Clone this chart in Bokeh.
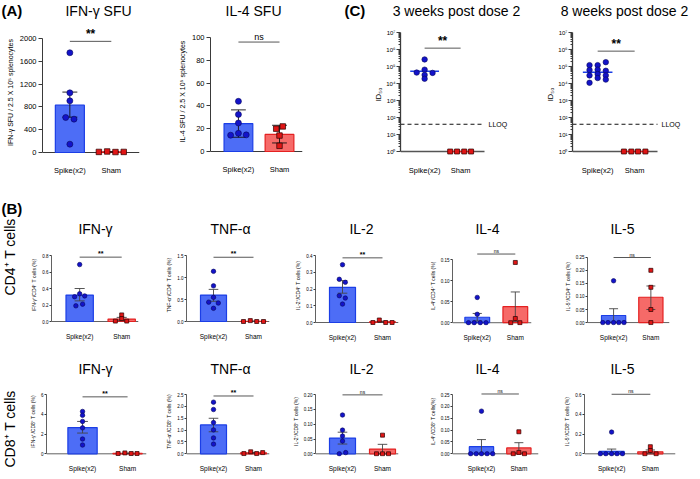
import math
from bokeh.plotting import figure
from bokeh.layouts import row, column
from bokeh.models import Range1d, FixedTicker, Span, Label, Arrow
from bokeh.embed import file_html
from bokeh.resources import INLINE

FONT = "Liberation Sans"

categories = ["Spike(x2)", "Sham"]
cat_x = [1, 2]

# ================= (A) ELISpot =================
a_ifn_spike = [1750, 1047, 906, 614, 585, 146]
a_ifn_sham = [10, 18, 8, 10]
a_ifn_bar = [830, 10]
a_ifn_lo = [620, 5]
a_ifn_hi = [1060, 15]
a_ifn_ticks = [0, 400, 800, 1200, 1600, 2000]
a_ifn_tick_labels = ["0", "400", "800", "1200", "1600", "2000"]
a_ifn_bracket = 1950
a_ifn_sig = "**"

a_il4_spike = [44, 32.5, 25, 16, 14.3, 14.6]
a_il4_sham = [20, 22, 14, 5]
a_il4_bar = [24.5, 15]
a_il4_lo = [12.5, 7.5]
a_il4_hi = [36.5, 23]
a_il4_ticks = [0, 20, 40, 60, 80, 100]
a_il4_tick_labels = ["0", "20", "40", "60", "80", "100"]
a_il4_bracket = 96
a_il4_sig = "ns"

a_titles = ["IFN-γ SFU", "IL-4 SFU"]
a_ylabels = ["IFN-γ SFU / 2.5 X 10⁵ splenocytes", "IL-4 SFU / 2.5 X 10⁵ splenocytes"]

# ================= (C) ID50 =================
c3_spike = [2.6e5, 6.5e4, 4.4e4, 4.2e4, 3.2e4, 1.9e4]
c3_sham = [1, 1, 1, 1]
c3_spike_median = 5.2e4
c3_sham_median = 1
c3_bracket = 1.2e6
c3_sig = "**"

c8_spike = [1.2e5, 6.2e4, 3.0e4, 1.1e4,
            1.2e5, 6.5e4, 3.6e4, 2.1e4,
            1.8e5, 5.6e4, 3.0e4, 1.7e4]
c8_sham = [1, 1, 1, 1]
c8_spike_median = 4.6e4
c8_sham_median = 1
c8_bracket = 8e5
c8_sig = "**"

c_lloq = 40
c_lloq_label = "LLOQ"
c_ticks = [1, 10, 100, 1e3, 1e4, 1e5, 1e6, 1e7]
c_tick_labels = ["10⁰", "10¹", "10²", "10³", "10⁴", "10⁵", "10⁶", "10⁷"]
c_titles = ["3 weeks post dose 2", "8 weeks post dose 2"]
c_ylabel = "ID₅₀"

# ================= (B) CD4 =================
b_titles = ["IFN-γ", "TNF-α", "IL-2", "IL-4", "IL-5"]

b4_ifn_spike = [0.69, 0.336, 0.30, 0.31, 0.19, 0.21]
b4_ifn_sham = [0.08, 0.035, 0.005, 0.005]
b4_ifn_bar = [0.32, 0.03]
b4_ifn_lo = [0.25, 0.01]
b4_ifn_hi = [0.40, 0.05]
b4_ifn_ticks = [0, 0.2, 0.4, 0.6, 0.8]
b4_ifn_tick_labels = ["0.0", "0.2", "0.4", "0.6", "0.8"]

b4_tnf_spike = [1.14, 0.81, 0.55, 0.44, 0.42, 0.30]
b4_tnf_sham = [0.0, 0.02, 0.0, 0.0]
b4_tnf_bar = [0.60, 0.005]
b4_tnf_lo = [0.46, 0.0]
b4_tnf_hi = [0.73, 0.01]
b4_tnf_ticks = [0, 0.5, 1.0, 1.5]
b4_tnf_tick_labels = ["0.0", "0.5", "1.0", "1.5"]

b4_il2_spike = [0.345, 0.258, 0.24, 0.16, 0.146, 0.11]
b4_il2_sham = [0.0, 0.015, 0.0, 0.0]
b4_il2_bar = [0.21, 0.004]
b4_il2_lo = [0.175, 0.0]
b4_il2_hi = [0.25, 0.008]
b4_il2_ticks = [0, 0.1, 0.2, 0.3, 0.4]
b4_il2_tick_labels = ["0.0", "0.1", "0.2", "0.3", "0.4"]

b4_il4_spike = [0.06, 0.02, 0, 0, 0, 0]
b4_il4_sham = [0.143, 0.01, 0, 0]
b4_il4_bar = [0.013, 0.038]
b4_il4_lo = [0.004, 0.003]
b4_il4_hi = [0.022, 0.073]
b4_il4_ticks = [0, 0.05, 0.10, 0.15]
b4_il4_tick_labels = ["0.00", "0.05", "0.10", "0.15"]

b4_il5_spike = [0.16, 0, 0, 0, 0, 0]
b4_il5_sham = [0.20, 0.135, 0.05, 0.0]
b4_il5_bar = [0.027, 0.097]
b4_il5_lo = [0.001, 0.05]
b4_il5_hi = [0.053, 0.14]
b4_il5_ticks = [0, 0.05, 0.10, 0.15, 0.20, 0.25]
b4_il5_tick_labels = ["0.00", "0.05", "0.10", "0.15", "0.20", "0.25"]

b4_brackets = [0.78, 1.46, 0.386, 0.163, 0.249]
b4_sigs = ["**", "**", "**", "ns", "ns"]
b4_ylabels = ["IFN-γ⁺/CD4⁺ T cells (%)", "TNF-α⁺/CD4⁺ T cells (%)", "IL-2⁺/CD4⁺ T cells (%)",
              "IL-4⁺/CD4⁺ T cells (%)", "IL-5⁺/CD4⁺ T cells (%)"]

# ================= (B) CD8 =================
b8_ifn_spike = [4.29, 3.9, 3.28, 2.63, 1.5, 0.89]
b8_ifn_sham = [0.03, 0.09, 0.03, 0.03]
b8_ifn_bar = [2.66, 0.05]
b8_ifn_lo = [2.1, 0.03]
b8_ifn_hi = [3.28, 0.07]
b8_ifn_ticks = [0, 2, 4, 6]
b8_ifn_tick_labels = ["0", "2", "4", "6"]

b8_tnf_spike = [2.18, 1.87, 1.32, 1.01, 0.67, 0.41]
b8_tnf_sham = [0.01, 0.085, 0.01, 0.05]
b8_tnf_bar = [1.22, 0.04]
b8_tnf_lo = [0.93, 0.02]
b8_tnf_hi = [1.5, 0.06]
b8_tnf_ticks = [0, 0.5, 1.0, 1.5, 2.0, 2.5]
b8_tnf_tick_labels = ["0.0", "0.5", "1.0", "1.5", "2.0", "2.5"]

b8_il2_spike = [0.131, 0.08, 0.06, 0.043, 0.0, 0.004]
b8_il2_sham = [0.063, 0, 0, 0]
b8_il2_bar = [0.053, 0.016]
b8_il2_lo = [0.033, 0.0]
b8_il2_hi = [0.073, 0.032]
b8_il2_ticks = [0, 0.05, 0.10, 0.15, 0.20]
b8_il2_tick_labels = ["0.00", "0.05", "0.10", "0.15", "0.20"]

b8_il4_spike = [0.18, 0, 0, 0, 0, 0]
b8_il4_sham = [0.093, 0.006, 0, 0]
b8_il4_bar = [0.03, 0.025]
b8_il4_lo = [0.0, 0.003]
b8_il4_hi = [0.06, 0.047]
b8_il4_ticks = [0, 0.05, 0.10, 0.15, 0.20, 0.25]
b8_il4_tick_labels = ["0.00", "0.05", "0.10", "0.15", "0.20", "0.25"]

b8_il5_spike = [0.22, 0, 0, 0, 0, 0]
b8_il5_sham = [0.072, 0.033, 0, 0]
b8_il5_bar = [0.024, 0.02]
b8_il5_lo = [0.0, 0.001]
b8_il5_hi = [0.048, 0.039]
b8_il5_ticks = [0, 0.2, 0.4, 0.6]
b8_il5_tick_labels = ["0.0", "0.2", "0.4", "0.6"]

b8_brackets = [5.77, 2.44, 0.199, 0.2525, 0.603]
b8_sigs = ["**", "**", "ns", "ns", "ns"]
b8_ylabels = ["IFN-γ⁺/CD8⁺ T cells (%)", "TNF-α⁺/CD8⁺ T cells (%)", "IL-2⁺/CD8⁺ T cells (%)",
              "IL-4⁺/CD8⁺ T cells(%)", "IL-5⁺/CD8⁺ T cells (%)"]

panel_letters = ["(A)", "(B)", "(C)"]
row_labels = ["CD4⁺ T cells", "CD8⁺ T cells"]

# ----- horizontal offsets of the swarm points (layout only) -----
a_ifn_spike_dx = [0, 0, 0, -0.1, 0.1, 0]
a_ifn_sham_dx = [-0.3, -0.1, 0.1, 0.3]
a_il4_spike_dx = [0, 0, 0, 0, -0.19, 0.19]
a_il4_sham_dx = [-0.08, 0.08, 0, 0]
c3_spike_dx = [0, 0, -0.22, 0.22, 0, 0]
c3_sham_dx = [-0.29, -0.1, 0.1, 0.29]
c8_spike_dx = [-0.22] * 4 + [0] * 4 + [0.22] * 4
c8_sham_dx = [-0.29, -0.09, 0.09, 0.29]
b4_dx = [
    ([0, 0, -0.12, 0.12, -0.09, 0.07], [0, 0, -0.15, 0.12]),
    ([0, 0, 0, -0.12, 0.12, 0], [-0.25, -0.08, 0.08, 0.25]),
    ([0, -0.08, 0.07, -0.08, 0.07, 0], [-0.24, -0.08, 0.08, 0.24]),
    ([0, 0, -0.23, -0.08, 0.08, 0.23], [0, 0, -0.12, 0.12]),
    ([0, -0.29, -0.15, 0, 0.14, 0.28], [0, 0, 0, 0]),
]
b8_dx = [
    ([0, 0, 0, 0, 0, 0], [-0.21, -0.06, 0.08, 0.21]),
    ([0, 0, 0, 0, 0, 0], [-0.24, -0.07, 0.08, 0.23]),
    ([0, 0, 0, 0, -0.08, 0.08], [0, -0.15, 0, 0.15]),
    ([0, -0.29, -0.14, 0, 0.15, 0.3], [0, 0, -0.15, 0.15]),
    ([0, -0.29, -0.15, 0, 0.14, 0.28], [0, 0, -0.14, 0.15]),
]

# ----- colours -----
BLUE_FILL = "#4d6df6"
BLUE_LINE = "#1b3ee6"
BLUE_DOT = "#1313c9"
BLUE_DOT_LINE = "#08085a"
RED_FILL = "#f66a68"
RED_LINE = "#e42121"
RED_DOT = "#e01515"
RED_DOT_LINE = "#2a0000"
AXIS = "#3a3a3a"

ST_A = dict(tick_fs="7.5px", cat_fs="7.5px", ylab_fs="7px", tick_out=4, tick_standoff=2,
            ylab_standoff=3, cat_standoff=3, bar_w=0.7, cap=0.18, dot=6, sq=5.5,
            sig_fs="12px", ns_fs="9px", err="#111111", axis_w=1)
ST_C = dict(tick_fs="6px", cat_fs="7.5px", ylab_fs="7.5px", tick_out=4, tick_standoff=1,
            ylab_standoff=0, cat_standoff=3, dot=5.5, sq=5, sig_fs="12px", ns_fs="9px", axis_w=1.3)
ST_B = dict(tick_fs="4.5px", cat_fs="6.5px", ylab_fs="5px", tick_out=2, tick_standoff=1,
            ylab_standoff=2, cat_standoff=2, bar_w=0.65, cap=0.12, dot=4.5, sq=4,
            sig_fs="7px", ns_fs="5px", err="#444444", axis_w=0.8)


def make_fig(W, H, bl, bt, fw, fh, xr, yr, log=False):
    kw = dict(width=W, height=H, x_range=Range1d(*xr), y_range=Range1d(*yr),
              min_border_left=bl, min_border_right=W - bl - fw,
              min_border_top=bt, min_border_bottom=H - bt - fh,
              output_backend="svg", toolbar_location=None, title=None)
    if log:
        kw["y_axis_type"] = "log"
    p = figure(**kw)
    p.frame_align = False
    p.outline_line_color = None
    p.grid.visible = False
    p.background_fill_color = "white"
    p.border_fill_color = "white"
    return p


def style_axes(p, ticks, labels, ylabel, st, minor=None):
    xa = p.xaxis[0]
    xa.ticker = FixedTicker(ticks=cat_x)
    xa.major_label_overrides = dict(zip(cat_x, categories))
    xa.axis_line_color = None
    xa.major_tick_line_color = None
    xa.minor_tick_line_color = None
    xa.major_label_standoff = st["cat_standoff"]
    xa.major_label_text_font = FONT
    xa.major_label_text_font_size = st["cat_fs"]
    xa.major_label_text_color = "black"
    ya = p.yaxis[0]
    ya.ticker = FixedTicker(ticks=ticks, minor_ticks=minor or [])
    ya.major_label_overrides = dict(zip(ticks, labels))
    ya.bounds = (ticks[0], ticks[-1])
    ya.axis_line_color = AXIS
    ya.axis_line_width = st["axis_w"]
    ya.major_tick_line_color = AXIS
    ya.major_tick_out = st["tick_out"]
    ya.major_tick_in = 0
    ya.minor_tick_line_color = AXIS if minor else None
    ya.minor_tick_out = 2
    ya.minor_tick_in = 0
    ya.major_label_standoff = st["tick_standoff"]
    ya.major_label_text_font = FONT
    ya.major_label_text_font_size = st["tick_fs"]
    ya.major_label_text_color = "black"
    ya.axis_label = ylabel
    ya.axis_label_text_font = FONT
    ya.axis_label_text_font_size = st["ylab_fs"]
    ya.axis_label_text_font_style = "normal"
    ya.axis_label_text_color = "black"
    ya.axis_label_standoff = st["ylab_standoff"]


def add_sig(p, y, sig, st):
    p.add_layout(Arrow(x_start=1, y_start=y, x_end=2, y_end=y, start=None, end=None,
                       line_color="#444444", line_width=0.9))
    bold = sig == "**"
    p.add_layout(Label(x=1.5, y=y, text=sig, text_font=FONT,
                       text_font_size=st["sig_fs"] if bold else st["ns_fs"],
                       text_font_style="bold" if bold else "normal",
                       text_align="center", text_baseline="bottom", text_color="black"))


def bar_panel(geom, H, xr, ticks, labels, ylabel, spike, spike_dx, sham, sham_dx,
              bar, lo, hi, brk, sig, st):
    W, bl, fw, t, span, ext, pad = geom
    ytop = ticks[-1]
    ppu = span / ytop
    p = make_fig(W, H, bl, t - ext, fw, ext + span + pad, xr, (-pad / ppu, ytop + ext / ppu))
    style_axes(p, ticks, labels, ylabel, st)
    base = Span(location=0, dimension="width", line_color=AXIS, line_width=st["axis_w"])
    base.level = "underlay"
    p.add_layout(base)
    p.vbar(x=cat_x, top=bar, bottom=0, width=st["bar_w"],
           fill_color=[BLUE_FILL, RED_FILL], line_color=[BLUE_LINE, RED_LINE], line_width=1.2)
    cw = st["cap"]
    p.segment(x0=cat_x, y0=lo, x1=cat_x, y1=hi, line_color=st["err"], line_width=0.9)
    p.segment(x0=[x - cw for x in cat_x] * 2, y0=hi + lo,
              x1=[x + cw for x in cat_x] * 2, y1=hi + lo, line_color=st["err"], line_width=0.9)
    p.scatter(x=[1 + d for d in spike_dx], y=spike, marker="circle", size=st["dot"],
              fill_color=BLUE_DOT, line_color=BLUE_DOT_LINE, line_width=0.6)
    p.scatter(x=[2 + d for d in sham_dx], y=sham, marker="square", size=st["sq"],
              fill_color=RED_DOT, line_color=RED_DOT_LINE, line_width=0.7)
    add_sig(p, brk, sig, st)
    return p


def log_panel(geom, H, x0, unit, axis_len, spike, spike_dx, sham, sham_dx,
              med_spike, med_sham, brk, sig, st):
    W, bl, fw, t, span, ext, pad = geom
    decades = math.log10(c_ticks[-1] / c_ticks[0])
    ppd = span / decades
    yr = (c_ticks[0] * 10 ** (-pad / ppd), c_ticks[-1] * 10 ** (ext / ppd))
    xr = (x0, x0 + fw / unit)
    x_axis_end = x0 + axis_len / unit
    p = make_fig(W, H, bl, t - ext, fw, ext + span + pad, xr, yr, log=True)
    minor = [m * tk for tk in c_ticks[:-1] for m in range(2, 10)]
    style_axes(p, c_ticks, c_tick_labels, c_ylabel, st, minor=minor)
    p.segment(x0=[x0], x1=[x_axis_end], y0=[c_ticks[0]], y1=[c_ticks[0]],
              line_color="#555555", line_width=1.4)
    p.segment(x0=[x0], x1=[x_axis_end], y0=[c_lloq], y1=[c_lloq],
              line_color="#111111", line_width=1, line_dash="4 3")
    p.segment(x0=[0.6], x1=[1.4], y0=[med_spike], y1=[med_spike], line_color=BLUE_LINE, line_width=1.5)
    p.segment(x0=[1.62], x1=[2.38], y0=[med_sham], y1=[med_sham], line_color=RED_LINE, line_width=1.5)
    p.scatter(x=[1 + d for d in spike_dx], y=spike, marker="circle", size=st["dot"],
              fill_color=BLUE_DOT, line_color=BLUE_DOT_LINE, line_width=0.6)
    p.scatter(x=[2 + d for d in sham_dx], y=sham, marker="square", size=st["sq"],
              fill_color=RED_DOT, line_color=RED_DOT_LINE, line_width=0.7)
    add_sig(p, brk, sig, st)
    p.add_layout(Label(x=x_axis_end, x_offset=4, y=c_lloq, text=c_lloq_label,
                       text_font=FONT, text_font_size="7px", text_baseline="middle",
                       text_align="left", text_color="black"))
    return p


def text_strip(W, H, items):
    # items use y measured downward from the strip top
    p = figure(width=W, height=H, x_range=Range1d(0, W), y_range=Range1d(0, H),
               min_border_left=0, min_border_right=0, min_border_top=0, min_border_bottom=0,
               x_axis_location=None, y_axis_location=None,
               output_backend="svg", toolbar_location=None, title=None)
    p.frame_align = False
    p.outline_line_color = None
    p.grid.visible = False
    p.background_fill_color = "white"
    p.border_fill_color = "white"
    for x, y, text, size, bold, align, angle in items:
        p.add_layout(Label(x=x, y=H - y, text=text, text_font=FONT, text_font_size=size,
                           text_font_style="bold" if bold else "normal",
                           text_align=align, text_baseline="middle", angle=angle,
                           text_color="black"))
    return p


# ================= Row 1 : (A) and (C) =================
strip1 = text_strip(690, 20, [
    (1, 10, panel_letters[0], "15px", True, "left", 0),
    (98, 10, a_titles[0], "14px", False, "center", 0),
    (253, 10, a_titles[1], "14px", False, "center", 0),
    (344, 10, panel_letters[2], "15px", True, "left", 0),
    (456, 10, c_titles[0], "14px", False, "center", 0),
    (624, 10, c_titles[1], "14px", False, "center", 0),
])
H1 = 158
pA1 = bar_panel((156, 42, 97, 18, 114, 10, 4), H1, (0.34, 2.68), a_ifn_ticks, a_ifn_tick_labels,
                a_ylabels[0], a_ifn_spike, a_ifn_spike_dx, a_ifn_sham, a_ifn_sham_dx,
                a_ifn_bar, a_ifn_lo, a_ifn_hi, a_ifn_bracket, a_ifn_sig, ST_A)
pA2 = bar_panel((185, 54, 92, 17, 114, 10, 4), H1, (0.32, 2.56), a_il4_ticks, a_il4_tick_labels,
                a_ylabels[1], a_il4_spike, a_il4_spike_dx, a_il4_sham, a_il4_sham_dx,
                a_il4_bar, a_il4_lo, a_il4_hi, a_il4_bracket, a_il4_sig, ST_A)
pC1 = log_panel((185, 59, 110, 12, 119, 0, 5), H1, 0.33, 36, 84, c3_spike, c3_spike_dx, c3_sham,
                c3_sham_dx, c3_spike_median, c3_sham_median, c3_bracket, c3_sig, ST_C)
pC2 = log_panel((164, 46, 113, 12, 119, 0, 5), H1, 0.32, 37, 85, c8_spike, c8_spike_dx, c8_sham,
                c8_sham_dx, c8_spike_median, c8_sham_median, c8_bracket, c8_sig, ST_C)
block1 = column(strip1, row(pA1, pA2, pC1, pC2, spacing=0), spacing=0)

# ================= Row 2 : CD4 =================
b_title_x = [73, 208, 339, 465, 600]
b4_data = [
    (b4_ifn_ticks, b4_ifn_tick_labels, b4_ifn_spike, b4_ifn_sham, b4_ifn_bar, b4_ifn_lo, b4_ifn_hi),
    (b4_tnf_ticks, b4_tnf_tick_labels, b4_tnf_spike, b4_tnf_sham, b4_tnf_bar, b4_tnf_lo, b4_tnf_hi),
    (b4_il2_ticks, b4_il2_tick_labels, b4_il2_spike, b4_il2_sham, b4_il2_bar, b4_il2_lo, b4_il2_hi),
    (b4_il4_ticks, b4_il4_tick_labels, b4_il4_spike, b4_il4_sham, b4_il4_bar, b4_il4_lo, b4_il4_hi),
    (b4_il5_ticks, b4_il5_tick_labels, b4_il5_spike, b4_il5_sham, b4_il5_bar, b4_il5_lo, b4_il5_hi),
]
b4_geoms = [(134, 29, 87, 17, 66, 10, 3), (130, 30, 83, 17, 66, 10, 3), (140, 29, 83, 17, 67, 10, 3),
            (135, 22, 83, 22, 68, 14, 3), (129, 20, 88, 19, 67, 10, 3)]
b4_xr = [(0.33, 2.40), (0.325, 2.40), (0.325, 2.40), (0.35, 2.425), (0.30, 2.50)]
H2 = 105
figs2 = []
for i in range(5):
    tk, tl, sp, sh, br, lo, hi = b4_data[i]
    figs2.append(bar_panel(b4_geoms[i], H2, b4_xr[i], tk, tl, b4_ylabels[i], sp, b4_dx[i][0], sh,
                           b4_dx[i][1], br, lo, hi, b4_brackets[i], b4_sigs[i], ST_B))
strip2 = text_strip(668, 60, [(b_title_x[i], 50, b_titles[i], "14px", False, "center", 0)
                              for i in range(5)])
# rotated row label: anchored at its lower end, reading upward
side2 = text_strip(22, 165, [(1, 30, panel_letters[1], "15px", True, "left", 0),
                             (9, 117, row_labels[0], "14px", False, "left", math.pi / 2)])
block2 = row(side2, column(strip2, row(*figs2, spacing=0), spacing=0), spacing=0)

# ================= Row 3 : CD8 =================
b8_data = [
    (b8_ifn_ticks, b8_ifn_tick_labels, b8_ifn_spike, b8_ifn_sham, b8_ifn_bar, b8_ifn_lo, b8_ifn_hi),
    (b8_tnf_ticks, b8_tnf_tick_labels, b8_tnf_spike, b8_tnf_sham, b8_tnf_bar, b8_tnf_lo, b8_tnf_hi),
    (b8_il2_ticks, b8_il2_tick_labels, b8_il2_spike, b8_il2_sham, b8_il2_bar, b8_il2_lo, b8_il2_hi),
    (b8_il4_ticks, b8_il4_tick_labels, b8_il4_spike, b8_il4_sham, b8_il4_bar, b8_il4_lo, b8_il4_hi),
    (b8_il5_ticks, b8_il5_tick_labels, b8_il5_spike, b8_il5_sham, b8_il5_bar, b8_il5_lo, b8_il5_hi),
]
b8_geoms = [(134, 24, 100, 17, 66, 9, 3), (130, 30, 83, 17, 66, 9, 3), (140, 29, 83, 17, 66, 9, 3),
            (135, 20, 92, 17, 66, 9, 3), (129, 20, 94, 17, 66, 9, 3)]
b8_xr = [(0.2, 2.42), (0.325, 2.40), (0.325, 2.40), (0.225, 2.525), (0.30, 2.65)]
H3 = 96
figs3 = []
for i in range(5):
    tk, tl, sp, sh, br, lo, hi = b8_data[i]
    figs3.append(bar_panel(b8_geoms[i], H3, b8_xr[i], tk, tl, b8_ylabels[i], sp, b8_dx[i][0], sh,
                           b8_dx[i][1], br, lo, hi, b8_brackets[i], b8_sigs[i], ST_B))
strip3 = text_strip(668, 35, [(b_title_x[i], 25, b_titles[i], "14px", False, "center", 0)
                              for i in range(5)])
side3 = text_strip(22, 131, [(9, 124, row_labels[1], "14px", False, "left", math.pi / 2)])
block3 = row(side3, column(strip3, row(*figs3, spacing=0), spacing=0), spacing=0)

layout = column(block1, block2, block3, spacing=0)

open("out.html", "w").write(file_html(layout, INLINE))
